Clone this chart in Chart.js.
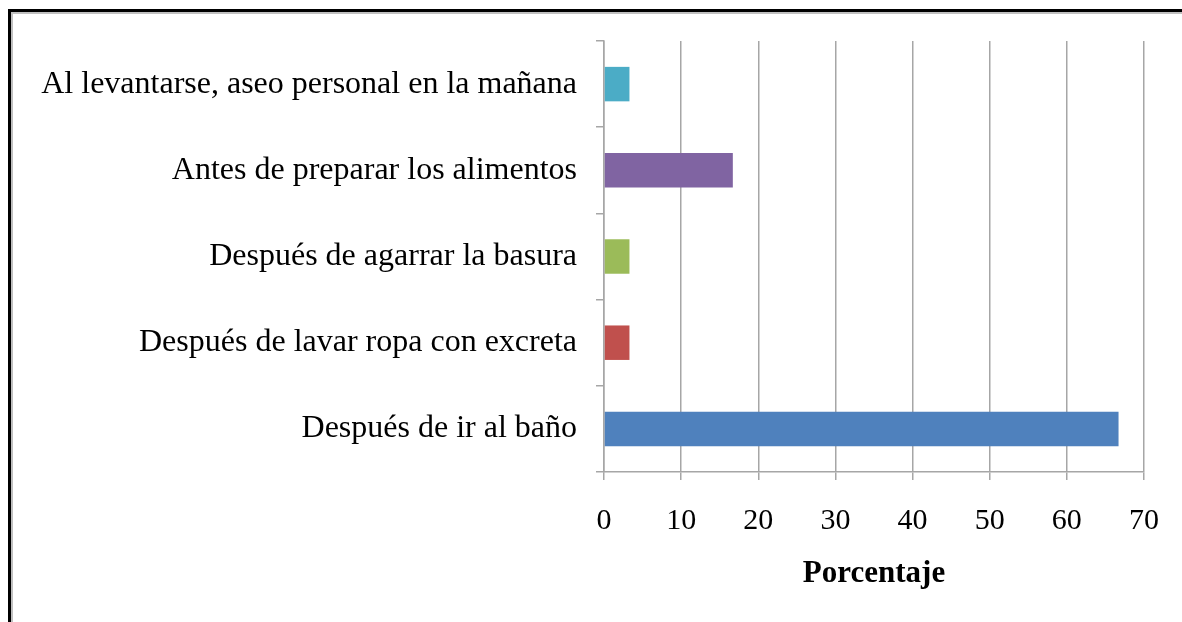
<!DOCTYPE html>
<html lang="es">
<head>
    <meta charset="UTF-8">
    <title>Porcentaje - lavado de manos</title>
    <script src="https://cdn.jsdelivr.net/npm/chart.js"></script>
    <style>
        html, body { margin: 0; padding: 0; background: #fff; }
        #frame {
            position: absolute; left: 8px; top: 9px; width: 1200px; height: 640px;
            border-left: 3px solid #000; border-top: 3px solid #000;
            box-shadow: inset 2px 2px 0 #c0c0c0;
        }
        #wrap { position: absolute; left: 0; top: 0; width: 1182px; height: 622px; }
    </style>
</head>
<body>
<div id="frame"></div>
<div id="wrap"><canvas id="chart" width="1182" height="622"></canvas></div>

<script>
    const categories = [
        'Al levantarse, aseo personal en la mañana',
        'Antes de preparar los alimentos',
        'Después de agarrar la basura',
        'Después de lavar ropa con excreta',
        'Después de ir al baño'
    ];
    const percentages = [3.3, 16.7, 3.3, 3.3, 66.7];
    const barColors = ['#4BACC6', '#8064A2', '#9BBB59', '#C0504D', '#4F81BD'];
    const xTicks = [0, 10, 20, 30, 40, 50, 60, 70];

    const serif = "'Liberation Serif', 'Times New Roman', serif";
    const gridGrey = '#a6a6a6';

    new Chart(document.getElementById('chart'), {
        type: 'bar',
        data: {
            labels: categories,
            datasets: [{
                data: percentages,
                backgroundColor: barColors,
                borderWidth: 0,
                barPercentage: 0.4,
                categoryPercentage: 1
            }]
        },
        options: {
            indexAxis: 'y',
            responsive: false,
            animation: false,
            layout: { padding: { top: 41, right: 36, left: 0, bottom: 0 } },
            plugins: {
                legend: { display: false },
                tooltip: { enabled: false }
            },
            scales: {
                x: {
                    min: 0,
                    max: 70,
                    afterBuildTicks: scale => { scale.ticks = xTicks.map(v => ({ value: v })); },
                    afterFit: scale => { scale.height = 150; },
                    grid: { color: gridGrey, lineWidth: 1.5, tickLength: 8 },
                    border: { color: gridGrey, width: 1.5 },
                    ticks: { color: '#000', padding: 23, font: { family: serif, size: 30 } },
                    title: {
                        display: true,
                        text: 'Porcentaje',
                        color: '#000',
                        padding: { top: 0, bottom: 29 },
                        font: { family: serif, size: 31, weight: 'bold' }
                    }
                },
                y: {
                    afterFit: scale => { scale.width = 604; },
                    grid: { drawOnChartArea: false, color: gridGrey, lineWidth: 1.5, tickLength: 8 },
                    border: { color: gridGrey, width: 1.5 },
                    ticks: { color: '#000', padding: 19, font: { family: serif, size: 32 } }
                }
            }
        }
    });
</script>
</body>
</html>
